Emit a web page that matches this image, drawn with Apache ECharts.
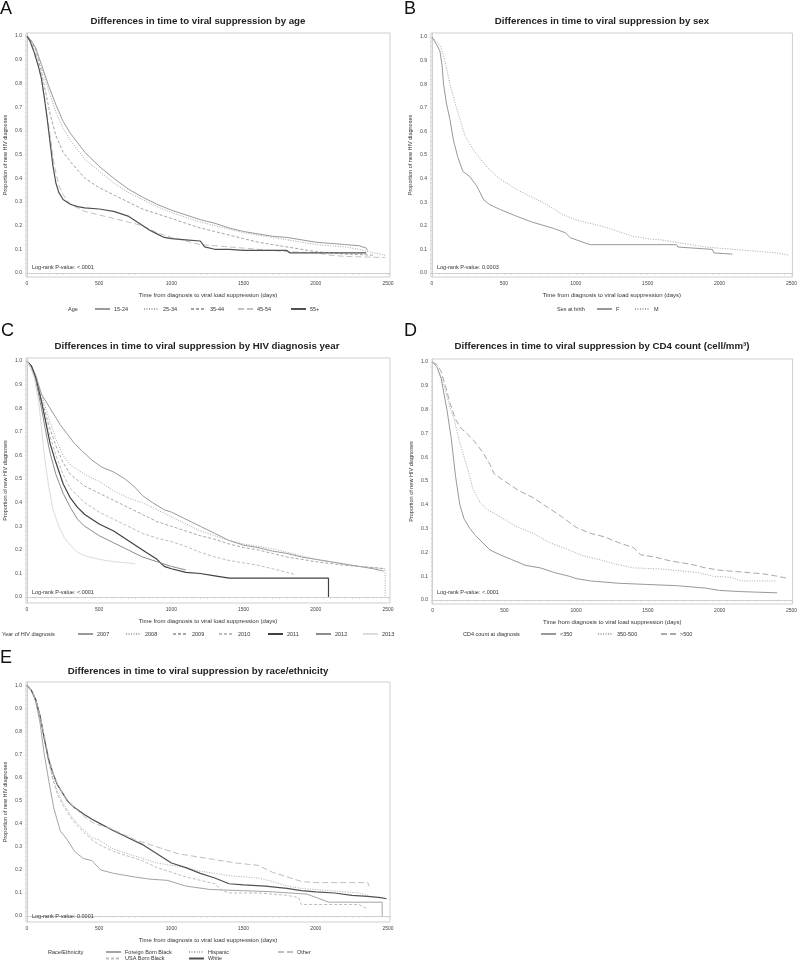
<!DOCTYPE html>
<html><head><meta charset="utf-8">
<script src="https://cdn.jsdelivr.net/npm/echarts@6/dist/echarts.min.js"></script>
<style>html,body{margin:0;padding:0;background:#fff}#c{width:800px;height:961px}</style>
</head><body><div id="c"></div><script>
// ---------- tick labels ----------
const xTicks = [0, 500, 1000, 1500, 2000, 2500];
const yTicks = [0, 0.1, 0.2, 0.3, 0.4, 0.5, 0.6, 0.7, 0.8, 0.9, 1.0];

// ---------- Panel A: age ----------
const ageNames = ['15-24', '25-34', '35-44', '45-54', '55+'];
const age1524 = [[0,1],[30,0.98],[60,0.95],[100,0.88],[150,0.79],[200,0.71],[250,0.64],[300,0.59],[350,0.55],[400,0.51],[450,0.48],[500,0.45],[600,0.40],[700,0.355],[800,0.32],[900,0.29],[1000,0.265],[1100,0.245],[1200,0.225],[1300,0.21],[1400,0.19],[1500,0.175],[1600,0.165],[1700,0.155],[1800,0.15],[1900,0.14],[2000,0.13],[2100,0.125],[2200,0.12],[2300,0.115],[2350,0.105],[2360,0.095]];
const age2534 = [[0,1],[30,0.98],[60,0.95],[100,0.87],[150,0.77],[200,0.68],[250,0.61],[300,0.56],[400,0.48],[500,0.43],[600,0.38],[700,0.34],[800,0.31],[900,0.28],[1000,0.255],[1100,0.235],[1200,0.215],[1300,0.2],[1400,0.185],[1500,0.17],[1600,0.16],[1700,0.15],[1800,0.14],[1900,0.13],[2000,0.12],[2100,0.115],[2200,0.11],[2300,0.10],[2400,0.085],[2480,0.075]];
const age3544 = [[0,1],[30,0.98],[60,0.94],[100,0.85],[130,0.76],[160,0.67],[200,0.58],[250,0.51],[300,0.47],[400,0.40],[500,0.36],[600,0.33],[700,0.30],[800,0.27],[900,0.25],[1000,0.23],[1100,0.21],[1200,0.19],[1300,0.175],[1400,0.16],[1500,0.145],[1600,0.13],[1700,0.12],[1800,0.11],[1900,0.10],[2000,0.09],[2100,0.085],[2200,0.08],[2400,0.075]];
const age4554 = [[0,1],[30,0.97],[60,0.92],[100,0.82],[130,0.70],[160,0.58],[190,0.45],[220,0.37],[250,0.33],[300,0.29],[400,0.26],[500,0.245],[600,0.23],[700,0.215],[800,0.20],[900,0.17],[1000,0.15],[1100,0.135],[1200,0.12],[1300,0.115],[1400,0.11],[1600,0.10],[1800,0.09],[2000,0.085],[2100,0.075],[2200,0.07],[2480,0.065]];
const age55 = [[0,1],[20,0.98],[50,0.93],[80,0.87],[100,0.82],[120,0.74],[140,0.65],[160,0.55],[180,0.45],[200,0.38],[220,0.34],[250,0.31],[300,0.29],[350,0.28],[400,0.275],[500,0.27],[600,0.26],[700,0.24],[750,0.22],[800,0.20],[850,0.18],[900,0.165],[950,0.15],[1000,0.145],[1100,0.14],[1200,0.135],[1230,0.11],[1300,0.10],[1400,0.10],[1500,0.095],[1800,0.095],[1820,0.085],[2350,0.085]];

// ---------- Panel B: sex ----------
const sexNames = ['F', 'M'];
const sexF = [[0,1],[30,0.97],[55,0.94],[70,0.88],[80,0.80],[100,0.72],[125,0.65],[150,0.56],[180,0.49],[215,0.43],[260,0.41],[310,0.37],[360,0.31],[400,0.29],[470,0.27],[590,0.24],[700,0.215],[840,0.19],[930,0.17],[960,0.15],[1050,0.13],[1100,0.12],[1700,0.12],[1710,0.11],[1950,0.10],[1960,0.085],[2090,0.08]];
const sexM = [[0,1],[30,0.98],[60,0.96],[90,0.90],[125,0.80],[170,0.70],[230,0.58],[290,0.52],[380,0.45],[470,0.40],[600,0.35],[700,0.32],[800,0.29],[900,0.25],[1000,0.225],[1100,0.21],[1200,0.195],[1300,0.175],[1400,0.155],[1500,0.145],[1600,0.14],[1700,0.13],[1800,0.12],[1900,0.11],[2000,0.105],[2100,0.10],[2200,0.095],[2300,0.09],[2400,0.085],[2480,0.075]];

// ---------- Panel C: diagnosis year ----------
const yearNames = ['2007', '2008', '2009', '2010', '2011', '2012', '2013'];
const y2007 = [[0,1],[30,0.98],[60,0.94],[100,0.86],[130,0.83],[180,0.78],[230,0.73],[280,0.69],[330,0.65],[380,0.62],[450,0.58],[520,0.55],[600,0.53],[680,0.50],[740,0.47],[800,0.43],[870,0.40],[950,0.37],[1000,0.36],[1100,0.33],[1200,0.30],[1300,0.27],[1400,0.24],[1500,0.22],[1600,0.21],[1700,0.195],[1800,0.185],[1900,0.17],[2000,0.16],[2100,0.15],[2200,0.14],[2300,0.13],[2400,0.12],[2470,0.11]];
const y2008 = [[0,1],[30,0.98],[60,0.94],[100,0.86],[150,0.76],[200,0.67],[250,0.60],[300,0.56],[400,0.52],[500,0.49],[600,0.45],[700,0.42],[800,0.40],[900,0.37],[1000,0.34],[1100,0.31],[1200,0.28],[1300,0.26],[1400,0.24],[1500,0.225],[1600,0.215],[1700,0.205],[1800,0.19],[1900,0.175],[2000,0.16],[2100,0.15],[2200,0.14],[2300,0.13],[2400,0.125],[2480,0.12],[2480,0.0]];
const y2009 = [[0,1],[30,0.98],[60,0.93],[100,0.84],[150,0.73],[200,0.64],[250,0.57],[300,0.52],[400,0.47],[500,0.44],[600,0.41],[700,0.38],[800,0.35],[900,0.32],[1000,0.30],[1100,0.28],[1200,0.26],[1300,0.245],[1400,0.225],[1500,0.21],[1600,0.20],[1700,0.185],[1800,0.17],[1900,0.16],[2000,0.15],[2200,0.135],[2400,0.125],[2480,0.12]];
const y2010 = [[0,1],[30,0.97],[60,0.93],[100,0.83],[150,0.70],[200,0.60],[250,0.52],[300,0.46],[400,0.40],[500,0.36],[600,0.33],[700,0.30],[800,0.27],[900,0.25],[1000,0.235],[1100,0.215],[1200,0.19],[1300,0.17],[1400,0.155],[1500,0.145],[1600,0.135],[1700,0.12],[1800,0.105],[1860,0.095]];
const y2011 = [[0,1],[30,0.98],[60,0.93],[100,0.83],[130,0.74],[160,0.65],[200,0.57],[250,0.48],[300,0.42],[350,0.38],[400,0.35],[500,0.31],[600,0.28],[700,0.24],[800,0.20],[900,0.16],[950,0.13],[1000,0.12],[1100,0.105],[1200,0.10],[1300,0.09],[1400,0.08],[2088,0.08],[2088,0.0]];
const y2012 = [[0,1],[30,0.97],[60,0.92],[100,0.80],[130,0.70],[160,0.61],[200,0.52],[250,0.44],[300,0.38],[350,0.33],[400,0.30],[500,0.26],[600,0.23],[700,0.20],[800,0.17],[900,0.15],[1000,0.13],[1100,0.115]];
const y2013 = [[0,1],[20,0.98],[50,0.93],[80,0.83],[100,0.72],[120,0.60],[150,0.47],[180,0.37],[220,0.30],[260,0.25],[300,0.22],[350,0.19],[400,0.175],[500,0.16],[600,0.15],[700,0.145],[750,0.14]];

// ---------- Panel D: CD4 count ----------
const cd4Names = ['<350', '350-500', '>500'];
const cd4Low = [[0,1],[30,0.98],[60,0.93],[100,0.80],[130,0.68],[160,0.52],[190,0.40],[220,0.34],[260,0.30],[300,0.27],[350,0.24],[400,0.21],[470,0.19],[550,0.17],[650,0.145],[750,0.135],[850,0.115],[950,0.10],[1000,0.09],[1100,0.08],[1300,0.07],[1500,0.065],[1700,0.06],[1900,0.05],[2000,0.04],[2150,0.035],[2400,0.03]];
const cd4Mid = [[0,1],[30,0.98],[60,0.94],[90,0.88],[120,0.81],[150,0.76],[190,0.66],[240,0.56],[280,0.47],[330,0.41],[380,0.38],[470,0.35],[580,0.31],[700,0.28],[820,0.24],[930,0.215],[1050,0.185],[1160,0.17],[1280,0.15],[1400,0.135],[1600,0.13],[1850,0.115],[1950,0.10],[2080,0.095],[2150,0.08],[2390,0.08]];
const cd4High = [[0,1],[30,0.99],[60,0.96],[90,0.90],[120,0.83],[160,0.76],[200,0.72],[240,0.70],[300,0.66],[350,0.62],[400,0.57],[430,0.53],[500,0.50],[600,0.46],[700,0.43],[800,0.39],[900,0.35],[1000,0.305],[1100,0.28],[1200,0.265],[1300,0.24],[1400,0.22],[1450,0.19],[1550,0.18],[1650,0.165],[1800,0.15],[1900,0.135],[2000,0.125],[2100,0.12],[2200,0.115],[2300,0.11],[2400,0.10],[2480,0.09]];

// ---------- Panel E: race/ethnicity ----------
const raceNames = ['Foreign Born Black', 'USA Born Black', 'Hispanic', 'White', 'Other'];
const raceFBB = [[0,1],[30,0.98],[60,0.93],[90,0.84],[120,0.70],[150,0.59],[185,0.47],[230,0.37],[280,0.33],[330,0.28],[390,0.25],[450,0.24],[510,0.20],[600,0.185],[740,0.17],[850,0.16],[970,0.155],[1100,0.13],[1270,0.115],[1500,0.11],[1700,0.105],[1940,0.095],[2090,0.06],[2460,0.06],[2460,0.0]];
const raceUSB = [[0,1],[30,0.98],[60,0.94],[90,0.87],[120,0.77],[150,0.67],[180,0.59],[210,0.53],[250,0.48],[300,0.43],[350,0.39],[400,0.36],[450,0.33],[500,0.31],[600,0.28],[700,0.26],[800,0.24],[900,0.21],[1000,0.19],[1100,0.17],[1200,0.155],[1300,0.14],[1350,0.11],[1400,0.10],[1600,0.10],[1800,0.09],[1880,0.08],[1900,0.05],[2300,0.05],[2360,0.03]];
const raceHisp = [[0,1],[30,0.98],[60,0.94],[90,0.87],[120,0.77],[150,0.67],[180,0.60],[210,0.54],[250,0.49],[300,0.44],[350,0.40],[400,0.37],[450,0.34],[500,0.33],[600,0.29],[700,0.27],[800,0.25],[900,0.23],[1000,0.22],[1100,0.21],[1200,0.195],[1300,0.185],[1400,0.175],[1500,0.17],[1600,0.165],[1700,0.15],[1800,0.13],[1900,0.12],[2000,0.115],[2100,0.11],[2200,0.105],[2300,0.10],[2360,0.09]];
const raceWhite = [[0,1],[30,0.98],[60,0.94],[90,0.87],[120,0.77],[150,0.68],[180,0.62],[210,0.57],[250,0.53],[280,0.50],[330,0.47],[400,0.44],[450,0.42],[510,0.40],[600,0.37],[700,0.34],[800,0.31],[900,0.27],[1000,0.23],[1100,0.21],[1200,0.185],[1300,0.165],[1400,0.14],[1500,0.135],[1650,0.13],[1800,0.12],[1900,0.11],[2000,0.105],[2130,0.10],[2250,0.09],[2360,0.085],[2450,0.08],[2490,0.075]];
const raceOther = [[0,1],[30,0.98],[60,0.94],[90,0.87],[120,0.78],[150,0.69],[180,0.62],[220,0.56],[270,0.51],[330,0.47],[400,0.43],[470,0.40],[560,0.385],[650,0.36],[750,0.33],[850,0.31],[950,0.29],[1050,0.27],[1150,0.26],[1250,0.25],[1350,0.24],[1450,0.23],[1600,0.22],[1700,0.19],[1800,0.17],[1900,0.15],[2000,0.145],[2360,0.145],[2370,0.13]];

// ---------- layout / styles ----------
const FONT = 'Liberation Sans, Arial, sans-serif';
const DOT = [1, 1.5], DASH = [3, 2], LDASH = [6, 3];
const panels = [
  { letter:'A', title:'Differences in time to viral suppression by age', cx:198, ty:21, lx:0, ly:9,
    grid:{left:26, top:33, width:364, height:244}, xr:[-7,2514], yr:[-0.017,1.013], logrank:'Log-rank P-value: <.0001', lr:[32,267],
    series:[[ageNames[0],age1524,'#9a9a9a','solid',1],[ageNames[1],age2534,'#a8a8a8',DOT,1],[ageNames[2],age3544,'#a4a4a4',DASH,1],[ageNames[3],age4554,'#c2c2c2',LDASH,1],[ageNames[4],age55,'#505050','solid',1.2]],
    head:['Age',68,309], leg:[[94,309],[143,309],[190,309],[237,309],[290,309]] },
  { letter:'B', title:'Differences in time to viral suppression by sex', cx:602, ty:21, lx:404, ly:9,
    grid:{left:431, top:33, width:363, height:244}, xr:[-7,2507], yr:[-0.017,1.017], logrank:'Log-rank P-value: 0.0003', lr:[437,267],
    series:[[sexNames[0],sexF,'#999999','solid',1],[sexNames[1],sexM,'#a8a8a8',DOT,1]],
    head:['Sex at birth',557,309], leg:[[596,309],[634,309]] },
  { letter:'C', title:'Differences in time to viral suppression by HIV diagnosis year', cx:197, ty:346, lx:1, ly:331,
    grid:{left:26, top:358, width:364, height:245}, xr:[-7,2514], yr:[-0.025,1.013], logrank:'Log-rank P-value: <.0001', lr:[32,592],
    series:[[yearNames[0],y2007,'#9a9a9a','solid',1],[yearNames[1],y2008,'#aaaaaa',DOT,1],[yearNames[2],y2009,'#a8a8a8',DASH,1],[yearNames[3],y2010,'#bcbcbc',DASH,1],[yearNames[4],y2011,'#404040','solid',1.2],[yearNames[5],y2012,'#8c8c8c','solid',1],[yearNames[6],y2013,'#dcdcdc','solid',1]],
    head:['Year of HIV diagnosis',2,634], leg:[[77,634],[125,634],[172,634],[218,634],[267,634],[315,634],[362,634]] },
  { letter:'D', title:'Differences in time to viral suppression by CD4 count (cell/mm³)', cx:602, ty:346, lx:404, ly:331,
    grid:{left:432, top:359, width:362, height:245}, xr:[-4,2508], yr:[-0.017,1.013], logrank:'Log-rank P-value: <.0001', lr:[437,592],
    series:[[cd4Names[0],cd4Low,'#999999','solid',1],[cd4Names[1],cd4Mid,'#a8a8a8',DOT,1],[cd4Names[2],cd4High,'#a8a8a8',LDASH,1]],
    head:['CD4 count at diagnosis',463,634], leg:[[540,634],[597,634],[660,634]] },
  { letter:'E', title:'Differences in time to viral suppression by race/ethnicity', cx:198, ty:671, lx:0, ly:658,
    grid:{left:26, top:682, width:364, height:240}, xr:[-7,2514], yr:[-0.026,1.016], logrank:'Log-rank P-value: 0.0001', lr:[32,916],
    series:[[raceNames[0],raceFBB,'#a4a4a4','solid',1],[raceNames[1],raceUSB,'#bdbdbd',DASH,1],[raceNames[2],raceHisp,'#ababab',DOT,1],[raceNames[3],raceWhite,'#505050','solid',1.2],[raceNames[4],raceOther,'#bdbdbd',LDASH,1]],
    head:['Race/Ethnicity',48,952], leg:[[105,952],[105,958.5],[188,952],[188,958.5],[277,952]] }
];

const grids = [], xAxes = [], yAxes = [], series = [], legends = [], graphics = [];
const minorX = []; for (let v = 0; v <= 2500; v += 50) minorX.push(v);
const minorY = []; for (let v = 0; v <= 100; v += 2) minorY.push(v / 100);

panels.forEach((p, i) => {
  grids.push(Object.assign({ show:true, borderColor:'#cfcfcf', borderWidth:1, backgroundColor:'#fff' }, p.grid));
  xAxes.push({ type:'value', gridIndex:i, min:p.xr[0], max:p.xr[1],
    name:'Time from diagnosis to viral load suppression (days)', nameLocation:'middle', nameGap:15,
    nameTextStyle:{ fontSize:6, color:'#333', fontFamily:FONT },
    axisLine:{ show:true, lineStyle:{ color:'#cfcfcf', width:1 } },
    axisTick:{ show:true, customValues:minorX, length:2, lineStyle:{ color:'#d0d0d0', width:0.6 } },
    axisLabel:{ customValues:xTicks, fontSize:5, color:'#444', margin:4, fontFamily:FONT, formatter:v => String(Math.round(v)) },
    splitLine:{ show:false } });
  yAxes.push({ type:'value', gridIndex:i, min:p.yr[0], max:p.yr[1],
    name:'Proportion of new HIV diagnoses', nameLocation:'middle', nameGap:18,
    nameTextStyle:{ fontSize:5.5, color:'#333', fontFamily:FONT },
    axisLine:{ show:true, lineStyle:{ color:'#cfcfcf', width:1 } },
    axisTick:{ show:true, customValues:minorY, length:2, lineStyle:{ color:'#d0d0d0', width:0.6 } },
    axisLabel:{ customValues:yTicks, fontSize:5, color:'#444', margin:4, fontFamily:FONT, formatter:v => v.toFixed(1) },
    splitLine:{ show:false } });
  p.series.forEach(([name, data, color, type, w], k) => {
    series.push({ type:'line', name, xAxisIndex:i, yAxisIndex:i, data, symbol:'none', showSymbol:false, silent:true,
      color, lineStyle:{ color, type, width:w }, z: 2 + k });
    const [lx, ly] = p.leg[k];
    legends.push({ data:[name], left:lx, top:ly - 3, itemWidth:15, itemHeight:6, itemGap:0, padding:0,
      selectedMode:false, itemStyle:{ opacity:0, borderWidth:0 },
      textStyle:{ fontSize:5.5, color:'#333', fontFamily:FONT, padding:[0,0,0,-1] } });
  });
  graphics.push({ type:'text', left:p.lx, top:p.ly - 9, style:{ text:p.letter, fontSize:18, fill:'#111', fontFamily:FONT } });
  graphics.push({ type:'text', x:p.cx, y:p.ty, style:{ text:p.title, fontSize:9.7, fontWeight:'bold', fill:'#222', fontFamily:FONT, align:'center', verticalAlign:'middle' } });
  graphics.push({ type:'text', x:p.lr[0], y:p.lr[1], z:10, style:{ text:p.logrank, fontSize:5.5, fill:'#333', fontFamily:FONT, align:'left', verticalAlign:'middle' } });
  graphics.push({ type:'text', x:p.head[1], y:p.head[2], style:{ text:p.head[0], fontSize:5.5, fill:'#333', fontFamily:FONT, align:'left', verticalAlign:'middle' } });
});

const chart = echarts.init(document.getElementById('c'), null, { renderer:'canvas' });
chart.setOption({
  animation:false, backgroundColor:'#fff',
  grid:grids, xAxis:xAxes, yAxis:yAxes, series, legend:legends, graphic:graphics
});
</script></body></html>
